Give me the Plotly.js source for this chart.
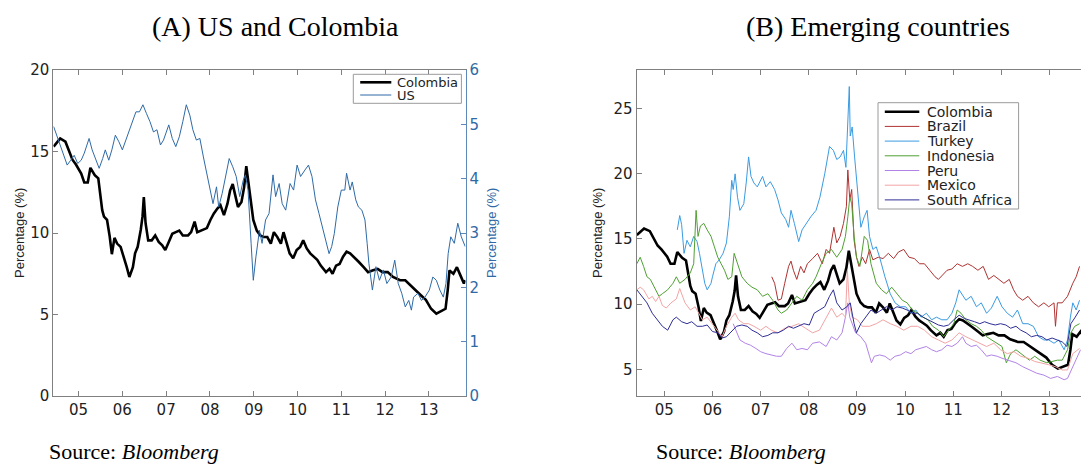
<!DOCTYPE html>
<html><head><meta charset="utf-8">
<script src="https://cdn.plot.ly/plotly-3.0.1.min.js"></script>
<style>html,body{margin:0;padding:0;background:#fff}#chart{width:1081px;height:466px}</style>
</head><body><div id="chart"></div><script>
// ---------- DATA (decimal years, yields in %) ----------
var yearTicks = [2005,2006,2007,2008,2009,2010,2011,2012,2013];
var yearLabels = ['05','06','07','08','09','10','11','12','13'];

var colombiaYears = [2004.43,2004.58,2004.70,2004.78,2004.86,2004.94,2005.06,2005.13,2005.21,2005.27,
2005.37,2005.45,2005.49,2005.54,2005.58,2005.65,2005.71,2005.76,2005.82,2005.88,
2005.96,2006.04,2006.10,2006.16,2006.24,2006.29,2006.35,2006.42,2006.46,2006.49,
2006.53,2006.59,2006.67,2006.75,2006.83,2006.91,2006.98,2007.06,2007.14,2007.22,
2007.30,2007.38,2007.50,2007.57,2007.65,2007.71,2007.81,2007.93,2008.01,2008.09,
2008.17,2008.24,2008.32,2008.40,2008.46,2008.52,2008.57,2008.64,2008.72,2008.78,
2008.83,2008.87,2008.94,2008.99,2009.07,2009.15,2009.23,2009.31,2009.39,2009.46,
2009.54,2009.62,2009.68,2009.76,2009.82,2009.90,2009.98,2010.06,2010.13,2010.21,
2010.29,2010.37,2010.45,2010.53,2010.65,2010.73,2010.80,2010.88,2010.96,2011.04,
2011.12,2011.20,2011.28,2011.39,2011.51,2011.61,2011.71,2011.83,2011.94,2012.06,
2012.18,2012.34,2012.46,2012.57,2012.69,2012.81,2012.93,2013.05,2013.17,2013.29,
2013.38,2013.43,2013.47,2013.56,2013.64,2013.72,2013.80,2013.83];
var colombiaVals = [15.3,15.8,15.6,15.1,14.5,14.2,13.65,13.1,13.1,14.0,
13.55,13.35,12.6,11.4,11.0,10.8,9.8,8.7,9.7,9.35,
9.15,8.5,7.9,7.3,7.9,8.75,9.15,10.2,11.0,12.2,
10.6,9.55,9.55,9.85,9.45,9.25,8.95,9.45,9.95,10.05,
10.15,9.85,9.85,10.05,10.7,10.05,10.15,10.3,10.8,11.2,
11.5,11.7,11.1,11.8,12.6,13.0,12.4,11.6,11.9,12.8,
14.1,13.25,11.8,10.8,10.15,9.85,9.75,9.75,9.35,10.05,
9.75,9.35,10.05,9.25,8.75,8.45,8.95,9.15,9.55,9.05,
8.75,8.55,8.35,8.0,7.6,7.8,7.5,8.0,8.1,8.55,
8.85,8.75,8.55,8.25,7.9,7.6,7.7,7.8,7.6,7.6,
7.3,7.1,7.1,6.8,6.5,6.2,5.9,5.35,5.05,5.25,
5.35,6.5,7.7,7.5,7.9,7.4,6.9,7.1];

var usYears = [2004.43,2004.50,2004.58,2004.66,2004.74,2004.82,2004.90,2004.98,2005.06,2005.13,
2005.24,2005.31,2005.39,2005.47,2005.55,2005.61,2005.69,2005.76,2005.84,2005.92,
2006.00,2006.08,2006.16,2006.24,2006.31,2006.39,2006.47,2006.55,2006.63,2006.71,
2006.79,2006.87,2006.94,2007.06,2007.14,2007.22,2007.30,2007.38,2007.46,2007.54,
2007.61,2007.69,2007.77,2007.85,2007.93,2008.01,2008.07,2008.15,2008.20,2008.28,
2008.36,2008.44,2008.52,2008.60,2008.68,2008.76,2008.81,2008.87,2008.94,2008.99,
2009.05,2009.13,2009.19,2009.27,2009.35,2009.44,2009.50,2009.58,2009.65,2009.73,
2009.83,2009.91,2009.99,2010.07,2010.17,2010.25,2010.33,2010.41,2010.49,2010.57,
2010.65,2010.72,2010.78,2010.84,2010.92,2011.00,2011.08,2011.12,2011.20,2011.25,
2011.33,2011.39,2011.47,2011.54,2011.59,2011.63,2011.71,2011.79,2011.87,2011.96,
2012.04,2012.14,2012.22,2012.30,2012.38,2012.46,2012.54,2012.60,2012.65,2012.75,
2012.83,2012.91,2013.01,2013.09,2013.17,2013.25,2013.33,2013.39,2013.44,2013.50,
2013.58,2013.66,2013.74,2013.83];
var usVals = [4.96,4.8,4.65,4.47,4.25,4.34,4.43,4.28,4.34,4.47,
4.74,4.53,4.34,4.19,4.37,4.53,4.34,4.53,4.8,4.68,
4.53,4.71,4.86,5.05,5.23,5.23,5.36,5.2,5.05,4.86,
4.9,4.62,4.71,4.99,4.74,4.59,4.77,5.05,5.36,5.17,
4.9,4.71,4.74,4.4,4.1,3.79,3.54,3.85,3.48,3.73,
4.04,4.37,4.22,4.04,3.67,3.97,4.07,3.79,2.81,2.13,
2.56,3.05,2.81,3.24,3.36,4.07,3.67,3.91,3.54,3.42,
3.91,3.79,4.25,4.04,4.16,4.25,4.04,3.61,3.36,3.11,
2.87,2.62,2.75,2.99,3.48,3.79,3.79,4.1,3.79,3.94,
3.61,3.48,3.42,3.24,2.81,2.44,1.95,2.38,2.13,2.32,
2.07,2.19,2.5,2.07,1.89,1.64,1.76,1.58,1.82,1.89,
1.76,1.82,1.95,2.19,2.13,1.95,1.82,2.07,2.62,2.93,
2.81,3.18,2.93,2.75];

var brazilYears = [2007.23,2007.29,2007.36,2007.43,2007.50,2007.58,2007.63,2007.68,2007.75,2007.83,
2007.90,2007.97,2008.08,2008.18,2008.28,2008.36,2008.43,2008.52,2008.58,2008.65,
2008.72,2008.78,2008.81,2008.85,2008.89,2008.94,2008.99,2009.04,2009.11,2009.18,
2009.26,2009.33,2009.44,2009.54,2009.65,2009.76,2009.86,2009.97,2010.08,2010.19,
2010.30,2010.40,2010.51,2010.62,2010.69,2010.76,2010.87,2010.97,2011.08,2011.19,
2011.30,2011.40,2011.51,2011.62,2011.73,2011.84,2011.94,2012.05,2012.16,2012.25,
2012.33,2012.44,2012.55,2012.66,2012.77,2012.88,2012.98,2013.09,2013.12,2013.16,
2013.26,2013.37,2013.48,2013.55,2013.62];
var brazilVals = [12.1,11.6,10.3,10.4,11.6,12.9,13.3,12.6,11.9,12.9,
12.4,13.1,13.5,13.9,13.1,14.2,13.9,15.9,14.7,15.2,
16.2,17.5,20.3,18.0,18.8,14.9,13.6,12.9,13.6,13.1,
14.2,13.4,13.6,13.5,13.9,13.5,14.0,14.2,13.6,13.5,
13.1,13.1,12.6,12.1,11.9,12.2,12.6,12.7,13.1,12.9,
13.1,12.9,12.6,12.9,11.9,12.2,11.9,11.6,11.9,11.1,
10.6,10.3,10.6,10.1,9.8,10.1,9.8,10.1,8.3,10.1,
10.1,10.6,11.6,12.1,12.9];

var turkeyYears = [2005.27,2005.32,2005.36,2005.41,2005.47,2005.54,2005.61,2005.68,2005.73,2005.79,
2005.84,2005.89,2005.97,2006.00,2006.07,2006.14,2006.22,2006.29,2006.35,2006.40,
2006.43,2006.47,2006.52,2006.57,2006.65,2006.70,2006.75,2006.80,2006.86,2006.93,
2007.04,2007.11,2007.20,2007.29,2007.36,2007.43,2007.52,2007.58,2007.63,2007.70,
2007.79,2007.86,2007.95,2008.04,2008.15,2008.23,2008.33,2008.43,2008.51,2008.58,
2008.65,2008.72,2008.77,2008.81,2008.84,2008.86,2008.90,2008.95,2009.01,2009.08,
2009.15,2009.21,2009.26,2009.33,2009.40,2009.47,2009.58,2009.69,2009.79,2009.90,
2010.01,2010.12,2010.22,2010.33,2010.44,2010.55,2010.65,2010.76,2010.87,2010.97,
2011.05,2011.12,2011.19,2011.26,2011.37,2011.48,2011.58,2011.69,2011.79,2011.91,
2012.01,2012.12,2012.23,2012.33,2012.44,2012.55,2012.66,2012.77,2012.88,2012.98,
2013.09,2013.19,2013.30,2013.37,2013.43,2013.48,2013.55,2013.62];
var turkeyVals = [15.7,16.8,16.1,13.9,14.9,14.4,15.2,14.8,13.9,12.6,
11.6,11.1,11.6,12.1,13.1,13.4,13.9,14.7,16.7,19.5,
18.8,20.0,18.2,17.2,17.7,19.3,21.3,19.8,19.3,19.0,
19.8,19.0,19.4,18.8,18.0,17.0,16.5,15.9,17.2,16.2,
14.8,15.7,16.2,16.7,17.2,18.2,20.0,22.1,21.8,21.1,
21.3,21.8,20.5,24.9,26.7,22.9,23.6,21.3,18.8,15.9,
16.7,17.2,15.2,14.2,14.4,13.6,12.1,10.8,10.1,9.8,
9.8,9.3,9.55,9.0,9.3,8.8,9.0,8.8,8.8,9.3,
10.1,11.1,10.7,10.3,10.6,9.8,10.1,9.3,9.7,10.6,
9.8,9.3,9.0,9.55,8.5,8.5,8.3,7.5,7.25,7.25,
7.0,7.25,6.5,7.25,9.0,10.1,9.55,10.3];

var indonesiaYears = [2004.43,2004.50,2004.57,2004.64,2004.71,2004.82,2004.89,2004.96,2005.07,2005.18,
2005.25,2005.32,2005.43,2005.54,2005.61,2005.66,2005.70,2005.75,2005.82,2005.89,
2005.97,2006.04,2006.11,2006.18,2006.25,2006.32,2006.40,2006.45,2006.52,2006.61,
2006.72,2006.82,2006.93,2007.04,2007.15,2007.25,2007.36,2007.43,2007.54,2007.65,
2007.75,2007.86,2007.97,2008.08,2008.15,2008.26,2008.36,2008.47,2008.58,2008.69,
2008.76,2008.81,2008.85,2008.89,2008.94,2008.99,2009.06,2009.15,2009.22,2009.29,
2009.40,2009.51,2009.61,2009.72,2009.83,2009.94,2010.04,2010.15,2010.26,2010.37,
2010.47,2010.57,2010.69,2010.80,2010.90,2011.01,2011.08,2011.16,2011.26,2011.37,
2011.48,2011.58,2011.69,2011.79,2011.91,2012.01,2012.10,2012.19,2012.30,2012.40,
2012.48,2012.58,2012.69,2012.80,2012.94,2013.05,2013.16,2013.26,2013.37,2013.44,
2013.52,2013.62];
var indonesiaVals = [13.1,13.6,12.9,12.1,11.9,11.1,10.6,10.8,11.1,11.6,
12.1,11.6,11.9,12.4,13.1,17.2,15.2,16.0,16.2,15.7,
15.2,14.4,13.6,13.1,12.6,11.9,12.1,13.9,13.1,12.1,
11.6,11.3,11.1,10.6,10.8,10.3,9.55,9.3,9.55,10.1,
10.6,10.3,11.1,11.6,12.1,13.1,13.9,14.2,13.6,14.2,
15.2,16.7,18.2,17.7,15.2,13.6,12.9,15.2,14.9,13.1,
11.6,11.1,10.8,11.3,10.8,10.3,10.1,9.55,9.3,9.0,
8.8,8.3,8.0,7.5,8.0,8.5,9.55,9.3,8.8,8.5,
8.3,8.0,7.5,7.25,7.0,6.75,5.5,6.2,6.5,6.2,
6.0,5.7,6.0,5.7,5.5,5.6,5.7,5.7,6.5,7.8,
8.3,8.5];

var peruYears = [2006.43,2006.50,2006.57,2006.68,2006.79,2006.90,2007.00,2007.11,2007.22,2007.33,
2007.43,2007.54,2007.65,2007.75,2007.86,2007.97,2008.08,2008.22,2008.36,2008.47,
2008.58,2008.69,2008.76,2008.81,2008.85,2008.90,2008.97,2009.08,2009.18,2009.26,
2009.30,2009.36,2009.47,2009.58,2009.69,2009.79,2009.90,2010.01,2010.12,2010.22,
2010.33,2010.44,2010.55,2010.65,2010.76,2010.87,2010.97,2011.08,2011.19,2011.26,
2011.37,2011.48,2011.58,2011.69,2011.79,2011.91,2012.01,2012.16,2012.30,2012.44,
2012.58,2012.73,2012.88,2013.02,2013.16,2013.30,2013.37,2013.48,2013.58,2013.64];
var peruVals = [8.5,7.8,7.25,7.0,6.85,6.6,6.35,6.2,6.1,6.0,
6.0,6.6,7.0,6.5,6.6,6.5,7.0,7.1,6.75,7.5,
7.25,7.8,9.0,10.1,9.0,8.5,7.8,7.5,7.0,6.0,
5.5,6.0,6.1,6.0,5.7,6.0,6.1,6.35,6.2,6.5,
6.6,6.75,6.5,6.35,6.5,6.85,6.75,7.0,7.5,7.0,
6.75,6.85,6.5,6.0,6.1,6.0,5.85,5.7,5.5,5.2,
4.95,4.7,4.55,4.3,4.45,4.2,4.3,5.2,6.0,6.5];

var mexicoYears = [2004.43,2004.50,2004.57,2004.68,2004.75,2004.82,2004.89,2004.96,2005.04,2005.14,
2005.25,2005.32,2005.43,2005.54,2005.64,2005.72,2005.79,2005.89,2006.00,2006.11,
2006.20,2006.29,2006.40,2006.47,2006.54,2006.65,2006.75,2006.86,2007.00,2007.11,
2007.22,2007.36,2007.50,2007.65,2007.79,2007.93,2008.08,2008.22,2008.36,2008.47,
2008.58,2008.69,2008.76,2008.80,2008.84,2008.90,2009.01,2009.11,2009.26,2009.40,
2009.54,2009.69,2009.83,2009.97,2010.12,2010.26,2010.40,2010.55,2010.69,2010.83,
2010.97,2011.12,2011.26,2011.40,2011.55,2011.69,2011.84,2011.98,2012.12,2012.26,
2012.40,2012.55,2012.69,2012.84,2012.98,2013.12,2013.26,2013.37,2013.48,2013.62];
var mexicoVals = [11.1,11.3,11.1,10.4,10.6,10.2,10.6,9.9,9.7,10.1,
10.4,11.2,10.1,9.55,9.8,9.3,8.8,9.0,8.5,8.0,
7.5,8.3,9.0,9.3,8.8,8.5,8.5,8.3,8.0,8.3,
8.0,7.8,8.15,8.3,8.5,8.15,7.8,8.0,9.0,9.7,
9.0,9.3,9.0,12.6,10.1,9.0,8.8,8.3,8.3,8.5,
8.8,8.5,8.3,8.0,8.3,8.3,8.0,7.5,7.25,7.0,
7.25,7.8,7.5,7.25,7.0,6.75,7.0,6.5,6.2,6.35,
6.0,5.85,5.6,5.5,5.35,5.2,4.95,4.95,6.2,6.6];

var southAfricaYears = [2004.43,2004.53,2004.64,2004.75,2004.86,2004.96,2005.07,2005.18,2005.25,2005.36,
2005.47,2005.57,2005.68,2005.79,2005.89,2006.00,2006.11,2006.20,2006.29,2006.40,
2006.50,2006.61,2006.72,2006.82,2006.93,2007.04,2007.15,2007.25,2007.36,2007.47,
2007.58,2007.68,2007.79,2007.90,2008.01,2008.11,2008.22,2008.33,2008.43,2008.51,
2008.58,2008.69,2008.79,2008.86,2008.94,2008.99,2009.08,2009.18,2009.29,2009.40,
2009.51,2009.61,2009.72,2009.83,2009.94,2010.04,2010.15,2010.26,2010.37,2010.47,
2010.57,2010.69,2010.80,2010.90,2011.01,2011.12,2011.23,2011.33,2011.44,2011.55,
2011.65,2011.76,2011.87,2011.98,2012.09,2012.19,2012.30,2012.40,2012.51,2012.62,
2012.73,2012.84,2012.94,2013.05,2013.16,2013.26,2013.36,2013.44,2013.53,2013.62];
var southAfricaVals = [11.1,10.6,10.1,9.3,8.8,8.3,8.0,8.8,9.0,8.65,
8.5,8.65,8.3,8.3,8.4,7.9,7.8,7.4,7.5,7.9,
8.3,8.4,8.3,8.0,7.8,7.5,7.6,7.8,7.8,8.0,
8.3,8.15,8.3,8.5,8.4,9.3,9.55,9.8,10.6,11.1,
10.1,9.55,9.8,10.1,8.5,7.8,8.5,9.0,9.55,9.3,
9.55,9.8,9.55,9.8,9.7,9.55,9.3,9.3,9.0,8.8,
8.65,8.4,8.3,8.4,8.8,9.15,8.9,8.8,8.65,8.5,
8.65,8.5,8.4,8.5,8.4,8.15,8.3,8.0,7.8,7.5,
7.6,7.5,7.25,7.4,7.25,7.1,6.75,8.5,9.0,9.55];

var legendNamesA = ['Colombia','US'];
var legendNamesB = ['Colombia','Brazil','Turkey','Indonesia','Peru','Mexico','South Africa'];

// ---------- STYLE ----------
var W = 1081, H = 466;
function fx(p){ return p / W; }
function fy(p){ return 1 - p / H; }
var colorsB = ['#000000','#b03232','#3a9be2','#4fa032','#b283e6','#f3a4a4','#2e2e96'];
var widthsB = [2.6,1,1,1,1,1,1];
var usColor = '#2e6aa6';
var axisFont = {family:'DejaVu Sans, sans-serif', size:15, color:'#222'};

var seriesB = [
  [colombiaYears, colombiaVals],
  [brazilYears, brazilVals],
  [turkeyYears, turkeyVals],
  [indonesiaYears, indonesiaVals],
  [peruYears, peruVals],
  [mexicoYears, mexicoVals],
  [southAfricaYears, southAfricaVals]
];

var traces = [
  {x: colombiaYears, y: colombiaVals, xaxis:'x', yaxis:'y', type:'scatter', mode:'lines',
   line:{color:'#000', width:2.6}, name:'Colombia', showlegend:false},
  {x: usYears, y: usVals, xaxis:'x', yaxis:'y3', type:'scatter', mode:'lines',
   line:{color:usColor, width:1}, name:'US', showlegend:false}
];
seriesB.forEach(function(s, i){
  traces.push({x:s[0], y:s[1], xaxis:'x2', yaxis:'y2', type:'scatter', mode:'lines',
    line:{color:colorsB[i], width:widthsB[i]}, name:legendNamesB[i], showlegend:false});
});

var yDom = [fy(396), fy(70)];
var common = {showgrid:false, zeroline:false, ticks:'inside', ticklen:5, showline:true, linewidth:1};

var layout = {
  width: W, height: H,
  margin: {l:0, r:0, t:0, b:0},
  paper_bgcolor:'#fff', plot_bgcolor:'#fff',
  showlegend:false,
  xaxis: Object.assign({}, common, {domain:[fx(53.4), fx(465.5)], anchor:'y', range:[2004.425, 2013.836],
    tickmode:'array', tickvals:yearTicks, ticktext:yearLabels, mirror:'ticks',
    linecolor:'#808080', tickcolor:'#808080', tickfont:axisFont}),
  yaxis: Object.assign({}, common, {domain:yDom, anchor:'x', range:[0,20], tickmode:'array',
    tickvals:[0,5,10,15,20], linecolor:'#808080', tickcolor:'#808080', mirror:false, tickfont:axisFont}),
  yaxis3: Object.assign({}, common, {domain:yDom, anchor:'x', overlaying:'y', side:'right', range:[0,6],
    tickmode:'array', tickvals:[0,1,2,3,4,5,6], linecolor:'#5d88b8', tickcolor:'#5d88b8', mirror:false,
    tickfont:{family:'DejaVu Sans, sans-serif', size:15, color:'#2f6aa6'}}),
  xaxis2: Object.assign({}, common, {domain:[fx(636.6), 1], anchor:'y2', range:[2004.425, 2013.65],
    tickmode:'array', tickvals:yearTicks, ticktext:yearLabels, mirror:'ticks',
    linecolor:'#808080', tickcolor:'#808080', tickfont:axisFont}),
  yaxis2: Object.assign({}, common, {domain:yDom, anchor:'x2', range:[2.95, 27.97], tickmode:'array',
    tickvals:[5,10,15,20,25], linecolor:'#808080', tickcolor:'#808080', mirror:false, tickfont:axisFont}),
  shapes: [],
  annotations: []
};

var serif = 'Liberation Serif, Times New Roman, serif';
function ann(x, y, text, opts){
  return Object.assign({xref:'paper', yref:'paper', x:fx(x), y:fy(y), text:text, showarrow:false,
    xanchor:'center', yanchor:'middle'}, opts || {});
}
// panel titles
layout.annotations.push(ann(275, 27, '(A) US and Colombia', {font:{family:serif, size:28, color:'#000'}}));
layout.annotations.push(ann(878, 27, '(B) Emerging countries', {font:{family:serif, size:28, color:'#000'}}));
// y-axis titles
var yTitleFont = {family:'Liberation Sans, Arial, sans-serif', size:13, color:'#222'};
layout.annotations.push(ann(19, 233, 'Percentage (%)', {textangle:-90, font:yTitleFont}));
layout.annotations.push(ann(491, 233, 'Percentage (%)', {textangle:-90,
  font:{family:'Liberation Sans, Arial, sans-serif', size:13, color:'#2f6aa6'}}));
layout.annotations.push(ann(597, 233, 'Percentage (%)', {textangle:-90, font:yTitleFont}));
// sources
layout.annotations.push(ann(47, 451, 'Source: <i>Bloomberg</i>', {xanchor:'left', font:{family:serif, size:22, color:'#000'}}));
layout.annotations.push(ann(654, 451, 'Source: <i>Bloomberg</i>', {xanchor:'left', font:{family:serif, size:22, color:'#000'}}));

// legend A (manual)
layout.shapes.push({type:'rect', xref:'paper', yref:'paper', x0:fx(353.3), x1:fx(461.4), y0:fy(103.3), y1:fy(74.3),
  line:{color:'#9a9a9a', width:1}, fillcolor:'#fff'});
var legAColors = ['#000', usColor], legAWidths = [2.6, 1], legARows = [82.3, 95];
legendNamesA.forEach(function(n, i){
  layout.shapes.push({type:'line', xref:'paper', yref:'paper', x0:fx(360.2), x1:fx(391.3), y0:fy(legARows[i]), y1:fy(legARows[i]),
    line:{color:legAColors[i], width:legAWidths[i]}});
  layout.annotations.push(ann(394.7, legARows[i], n, {xanchor:'left',
    font:{family:'DejaVu Sans, sans-serif', size:13, color:'#222'}}));
});
// legend B (manual)
layout.shapes.push({type:'rect', xref:'paper', yref:'paper', x0:fx(878), x1:fx(1018.6), y0:fy(209), y1:fy(102.7),
  line:{color:'#9a9a9a', width:1}, fillcolor:'#fff'});
legendNamesB.forEach(function(n, i){
  var yy = 111.7 + i * 14.7;
  layout.shapes.push({type:'line', xref:'paper', yref:'paper', x0:fx(884.8), x1:fx(919.3), y0:fy(yy), y1:fy(yy),
    line:{color:colorsB[i], width:widthsB[i]}});
  layout.annotations.push(ann(924.5, yy, n, {xanchor:'left',
    font:{family:'DejaVu Sans, sans-serif', size:14, color:'#222'}}));
});

Plotly.newPlot('chart', traces, layout, {staticPlot:true, displayModeBar:false});
</script></body></html>
